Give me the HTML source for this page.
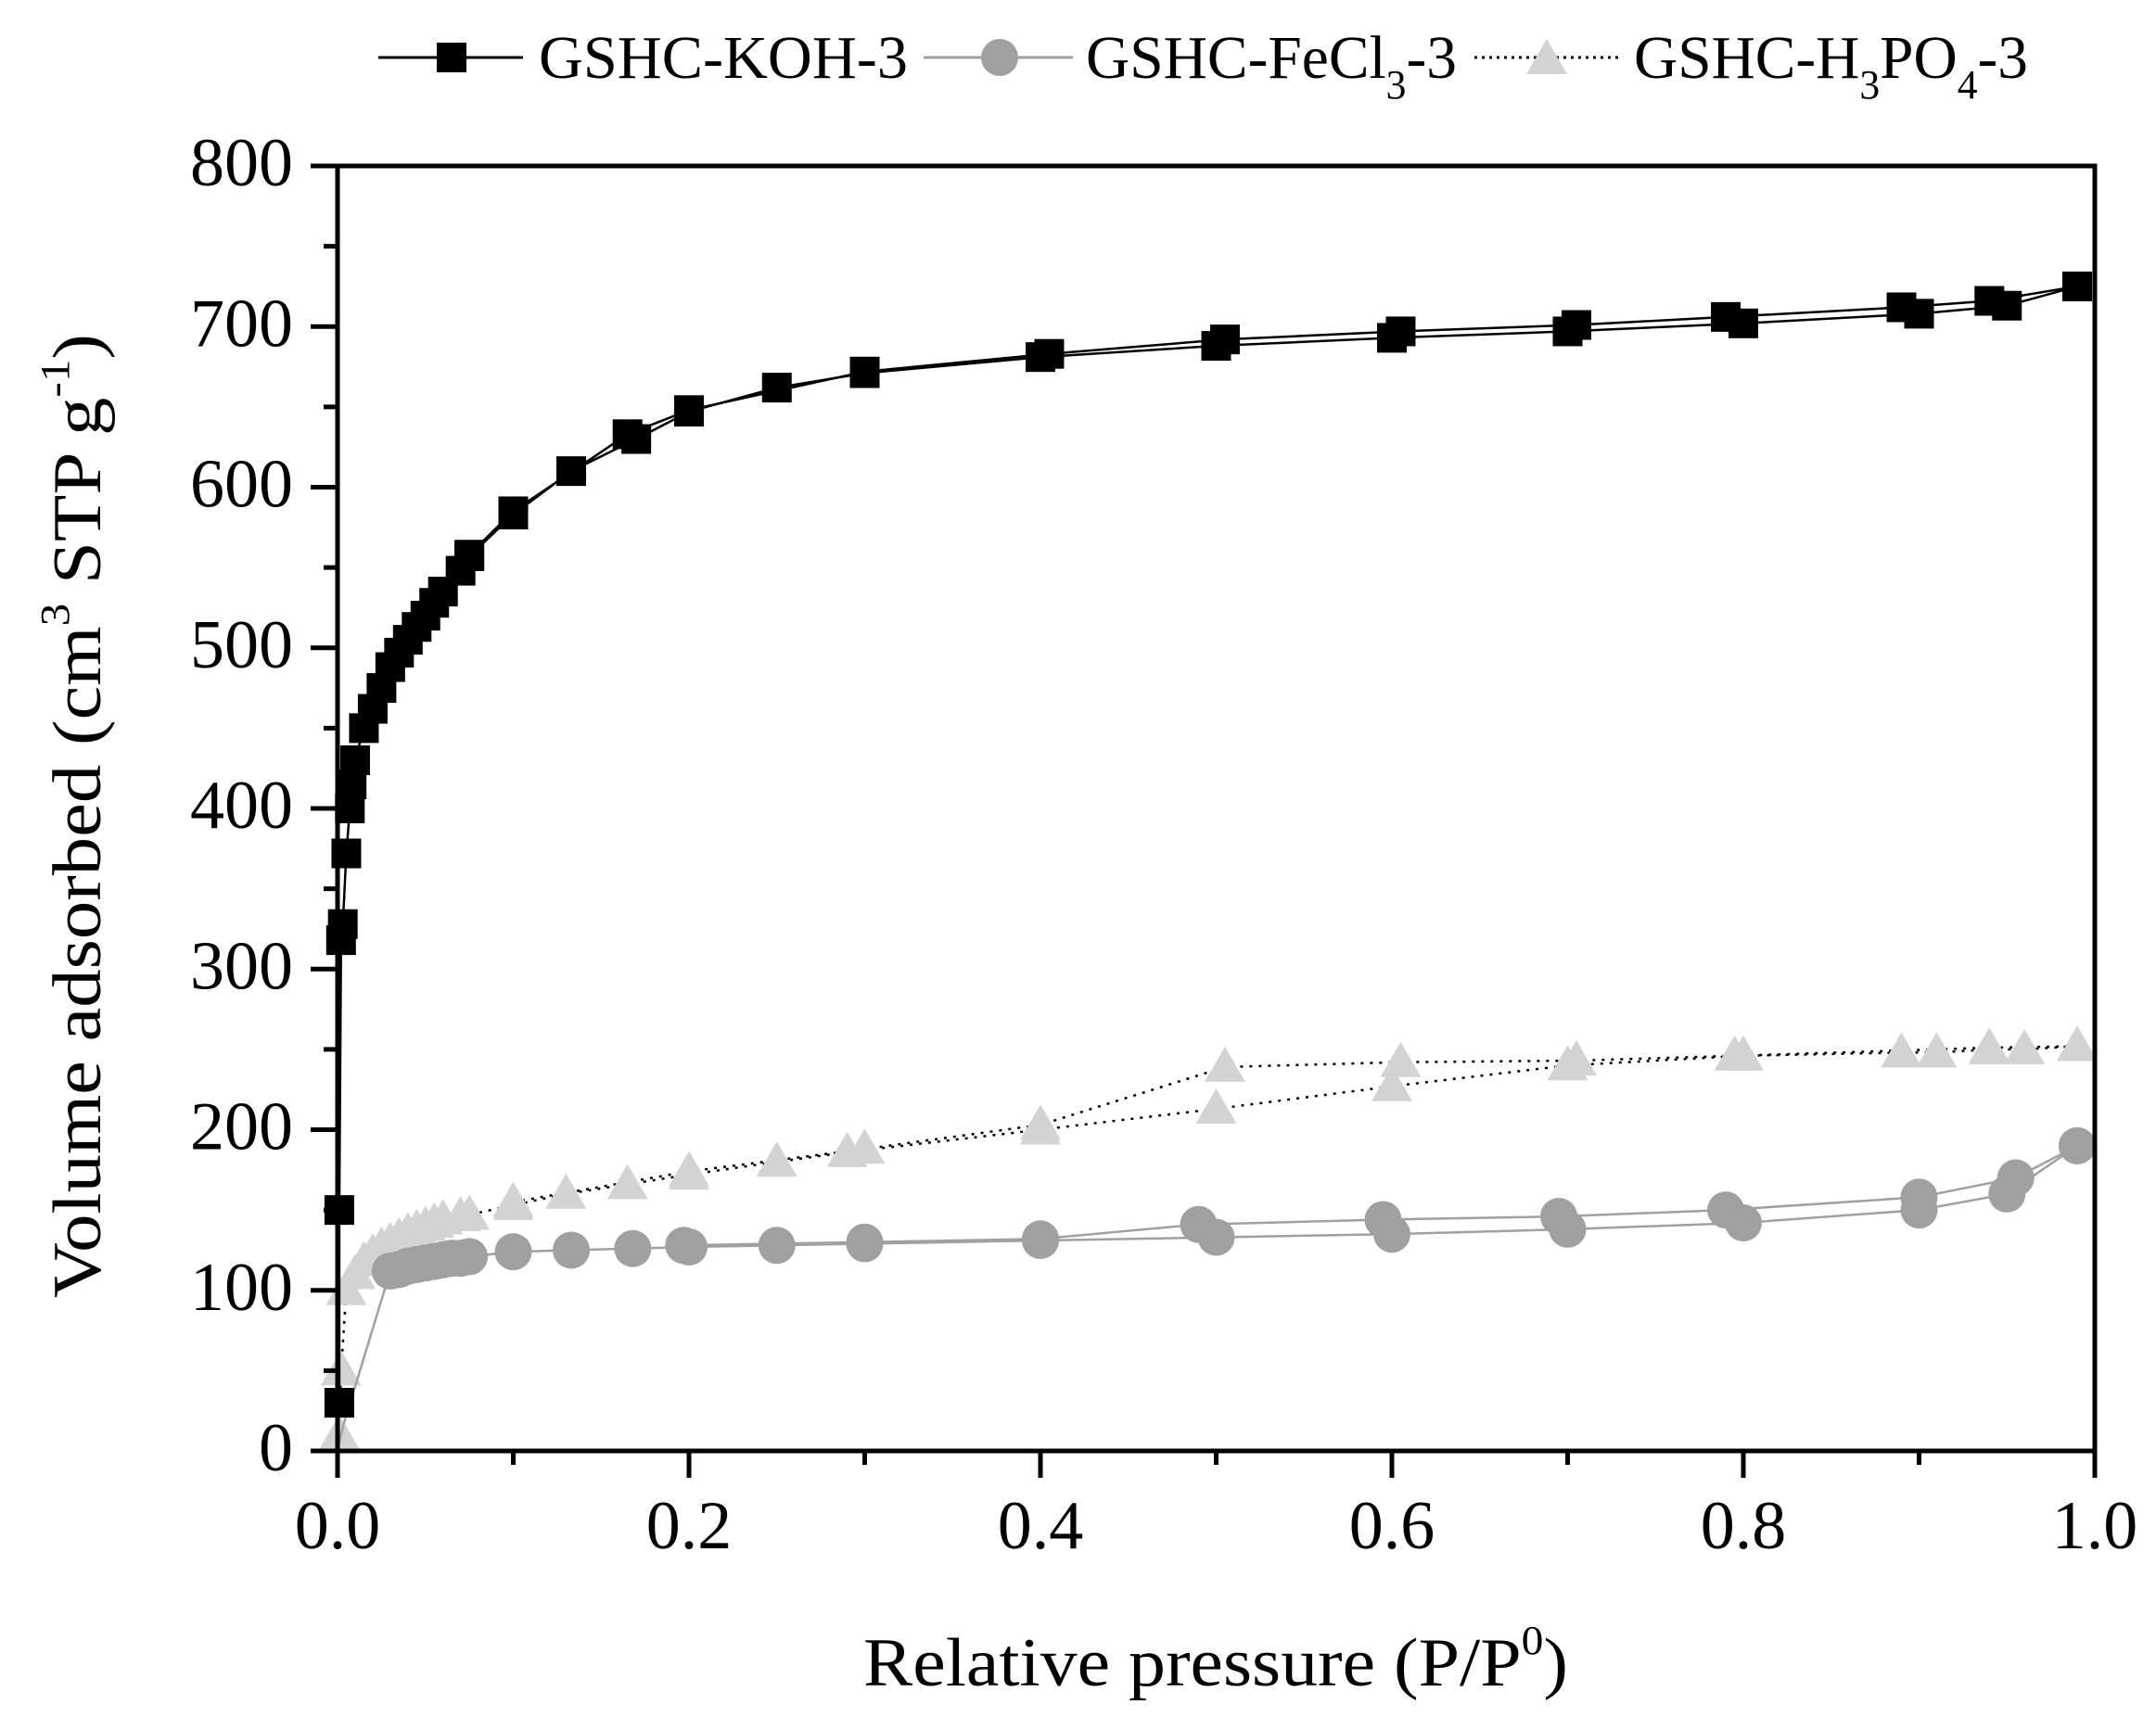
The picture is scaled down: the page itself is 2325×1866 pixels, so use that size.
<!DOCTYPE html>
<html><head><meta charset="utf-8"><style>html,body{margin:0;padding:0;background:#fff}svg{display:block}</style></head>
<body>
<svg id="s" xmlns="http://www.w3.org/2000/svg" width="2325" height="1866" viewBox="0 0 2325 1866" font-family="Liberation Serif, serif">
<rect width="2325" height="1866" fill="#fff"/>
<g id="plot"></g>
<rect x="364" y="179" width="1895" height="1386" fill="none" stroke="#000" stroke-width="5"/>
<g id="ticks" stroke="#000" stroke-width="5"></g>
<g id="labels" font-size="74"></g>
<text transform="translate(108,1400) rotate(-90)" font-size="74" textLength="1040" lengthAdjust="spacingAndGlyphs">Volume adsorbed (cm<tspan dy="-34" font-size="44">3</tspan><tspan dy="34"> STP g</tspan><tspan dy="-34" font-size="44">-1</tspan><tspan dy="34">)</tspan></text>
<text x="931" y="1818" font-size="74" textLength="760" lengthAdjust="spacingAndGlyphs">Relative pressure (P/P<tspan dy="-34" font-size="44">0</tspan><tspan dy="34">)</tspan></text>
<g font-size="66">
<line x1="408" y1="62" x2="564" y2="62" stroke="#000" stroke-width="3"/>
<rect x="471" y="46" width="32" height="32" fill="#000"/>
<text x="581" y="84" textLength="398" lengthAdjust="spacingAndGlyphs">GSHC-KOH-3</text>
<line x1="996" y1="62" x2="1157" y2="62" stroke="#a0a0a0" stroke-width="3"/>
<circle cx="1078" cy="62" r="20" fill="#a0a0a0"/>
<text x="1171" y="84" textLength="400" lengthAdjust="spacingAndGlyphs">GSHC-FeCl<tspan dy="22" font-size="44">3</tspan><tspan dy="-22">-3</tspan></text>
<line x1="1590" y1="62" x2="1750" y2="62" stroke="#000" stroke-width="3" stroke-dasharray="3,5"/>
<polygon points="1668,42 1690,80 1646,80" fill="#d3d3d3"/>
<text x="1762" y="84" textLength="425" lengthAdjust="spacingAndGlyphs">GSHC-H<tspan dy="22" font-size="44">3</tspan><tspan dy="-22">PO</tspan><tspan dy="22" font-size="44">4</tspan><tspan dy="-22">-3</tspan></text>
</g>
<script>
const X=p=>364+1895*p, Y=v=>1565-1.7325*v;
const NS="http://www.w3.org/2000/svg";
function el(t,a,parent){const e=document.createElementNS(NS,t);for(const k in a)e.setAttribute(k,a[k]);(parent||document.getElementById('plot')).appendChild(e);return e;}
const koA=[[0.001,30],[0.001,150],[0.002,318],[0.003,328],[0.005,372],[0.007,400],[0.008,415],[0.01,430],[0.015,450],[0.02,462],[0.025,475],[0.03,488],[0.035,497],[0.04,505],[0.045,513],[0.05,520],[0.055,528],[0.06,535],[0.07,548],[0.075,557],[0.1,583],[0.133,610],[0.17,630],[0.2,647],[0.25,662],[0.3,671],[0.4,681],[0.5,688],[0.6,693],[0.7,697],[0.8,702],[0.9,708],[0.95,713],[0.99,725]];
const koD=[[0.99,725],[0.94,716],[0.89,712],[0.79,706],[0.705,701],[0.605,697],[0.505,692],[0.405,683],[0.3,672],[0.2,648],[0.165,633],[0.1,585],[0.075,558]];
const feA=[[0.001,5],[0.003,15],[0.03,112],[0.035,113],[0.04,115],[0.045,116],[0.05,117],[0.055,118],[0.06,119],[0.065,120],[0.07,120],[0.075,121],[0.1,124],[0.133,125],[0.168,126],[0.2,127],[0.25,128],[0.3,129],[0.4,131],[0.5,133],[0.6,135],[0.7,138],[0.8,142],[0.9,150],[0.95,160],[0.99,190]];
const feD=[[0.99,190],[0.955,170],[0.9,158],[0.79,150],[0.695,146],[0.595,144],[0.49,141],[0.4,132],[0.3,130],[0.197,128]];
const hA=[[0.001,10],[0.002,50],[0.005,100],[0.01,110],[0.015,118],[0.02,123],[0.025,127],[0.03,130],[0.035,133],[0.04,136],[0.045,138],[0.05,140],[0.055,142],[0.06,144],[0.07,146],[0.075,147],[0.1,153],[0.13,160],[0.165,166],[0.2,172],[0.25,180],[0.29,186],[0.4,200],[0.5,213],[0.6,227],[0.7,240],[0.8,246],[0.89,248],[0.91,248],[0.94,250],[0.96,250],[0.99,252]];
const hD=[[0.99,252],[0.94,251],[0.795,246],[0.705,243],[0.605,242],[0.505,239],[0.4,203],[0.3,188],[0.2,174],[0.1,155]];
const pts=a=>a.map(d=>X(d[0]).toFixed(1)+','+Y(d[1]).toFixed(1)).join(' ');
function line(a,c,dash){const at={points:pts(a),fill:'none',stroke:c,'stroke-width':2.5};if(dash)at['stroke-dasharray']=dash;el('polyline',at);}
line(hA,'#000','3,7');line(hD,'#000','3,7');
[...hA,...hD].forEach(d=>{const x=X(d[0]),y=Y(d[1]);el('polygon',{points:`${x},${y-22} ${x+22},${y+16} ${x-22},${y+16}`,fill:'#d3d3d3'});});
line(feA,'#a0a0a0');line(feD,'#a0a0a0');
[...feA,...feD].forEach(d=>{if(d[0]<0.02)return;el('circle',{cx:X(d[0]),cy:Y(d[1]),r:20,fill:'#a0a0a0'});});
line(koA,'#000');line(koD,'#000');
[...koA,...koD].forEach(d=>{el('rect',{x:X(d[0])-16,y:Y(d[1])-16,width:32,height:32,fill:'#000'});});
const tg=document.getElementById('ticks'),lg=document.getElementById('labels');
for(let v=0;v<=800;v+=50){const y=Y(v),major=v%100==0;el('line',{x1:364,y1:y,x2:364-(major?29:15),y2:y},tg);
 if(major){const t=el('text',{x:316,y:y+21,'text-anchor':'end'},lg);t.textContent=String(v);}}
for(let i=0;i<=10;i++){const p=i/10,x=X(p),major=i%2==0;el('line',{x1:x,y1:1565,x2:x,y2:1565+(major?29:15)},tg);
 if(major){const t=el('text',{x:x,y:1670,'text-anchor':'middle'},lg);t.textContent=p.toFixed(1);}}
</script>
</svg>
</body></html>
